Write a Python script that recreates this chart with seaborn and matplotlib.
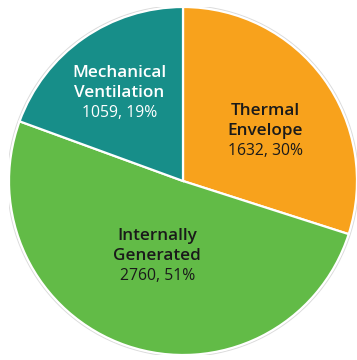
import matplotlib
matplotlib.use("Agg")
import matplotlib.pyplot as plt
import seaborn as sns
import numpy as np

sns.set_theme(style="white")
plt.rcParams['font.family'] = ['Open Sans', 'DejaVu Sans']

categories = ["Thermal\nEnvelope", "Internally\nGenerated", "Mechanical\nVentilation"]
values = [1632, 2760, 1059]
percents = [30, 51, 19]
colors = ["#F8A21C", "#62BB47", "#178E89"]
text_colors = ["#1a1a1a", "#1a1a1a", "#ffffff"]
label_radius = [0.554, 0.458, 0.622]
label_angle_shift = [-5, 0, 1]

fig = plt.figure(figsize=(3.57, 3.60), dpi=100)
R = 174
cx, cy = 183, 181
ax = fig.add_axes([(cx - R) / 357, (360 - cy - R) / 360, 2 * R / 357, 2 * R / 360])
ax.add_patch(plt.Circle((0, 0), 1.008, facecolor="none", edgecolor="#dcdcdc", linewidth=1.0))
wedges, _ = ax.pie(values, colors=colors, startangle=90, counterclock=False,
                   radius=1.0, wedgeprops=dict(edgecolor="white", linewidth=1.6))
ax.set_xlim(-1, 1)
ax.set_ylim(-1, 1)
ax.set_aspect("equal")
ax.axis("off")

step = 20 / R
for w, cat, v, p, tc, lr, da in zip(wedges, categories, values, percents, text_colors,
                                     label_radius, label_angle_shift):
    ang = np.deg2rad((w.theta1 + w.theta2) / 2 + da)
    x, y = lr * np.cos(ang), lr * np.sin(ang)
    l1, l2 = cat.split("\n")
    ax.text(x, y + step, l1, ha="center", va="center", fontsize=12.3, fontweight="semibold", color=tc)
    ax.text(x, y, l2, ha="center", va="center", fontsize=12.3, fontweight="semibold", color=tc)
    ax.text(x, y - step, f"{v}, {p}%", ha="center", va="center", fontsize=11.3, color=tc)

fig.savefig("out.png", dpi=100, facecolor="white")
